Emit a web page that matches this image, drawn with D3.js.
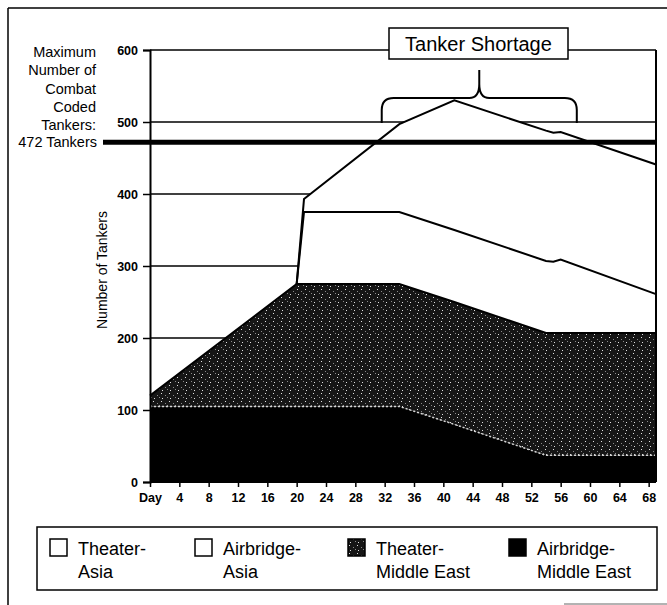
<!DOCTYPE html>
<html>
<head>
<meta charset="utf-8">
<script src="https://cdn.jsdelivr.net/npm/d3@7/dist/d3.min.js"></script>
<style>
  html, body { margin: 0; padding: 0; background: #fff; }
  svg { display: block; font-family: "Liberation Sans", Arial, Helvetica, sans-serif; }
</style>
</head>
<body>
<svg id="chart" width="667" height="605"></svg>
<script>
// ---- data ----
const days           = [0, 20, 21, 34, 41.5, 54, 55, 56, 69];
const airbridgeME    = [105, 105, 105, 105, 80, 37, 37, 37, 37];
const theaterME      = [15, 170, 170, 170, 170, 170, 170, 170, 170];
const airbridgeAsia  = [0, 0, 100, 100, 100, 100, 99, 102, 54];
const theaterAsia    = [0, 0, 18, 122, 180, 181, 179, 177, 180];
const seriesKeys     = ["airbridgeME", "theaterME", "airbridgeAsia", "theaterAsia"];
const xTickDays      = [0, 4, 8, 12, 16, 20, 24, 28, 32, 36, 40, 44, 48, 52, 56, 60, 64, 68];
const xTickLabels    = ["Day", "4", "8", "12", "16", "20", "24", "28", "32", "36", "40", "44", "48", "52", "56", "60", "64", "68"];
const yTicks         = [0, 100, 200, 300, 400, 500, 600];
const gridValues     = [200, 300, 400, 500];
const maxTankers     = 472;
const shortageDays   = [31.6, 58.2];
const legendLabels   = [["Theater-", "Asia"], ["Airbridge-", "Asia"], ["Theater-", "Middle East"], ["Airbridge-", "Middle East"]];
const leftLabelLines = ["Maximum", "Number of", "Combat", "Coded", "Tankers:"];

// ---- setup ----
const svg = d3.select("#chart");
const x = d3.scaleLinear().domain([0, 69]).range([150, 656]);
const y = d3.scaleLinear().domain([0, 600]).range([482, 50]);

const table = days.map((d, i) => ({
  day: d,
  airbridgeME: airbridgeME[i],
  theaterME: theaterME[i],
  airbridgeAsia: airbridgeAsia[i],
  theaterAsia: theaterAsia[i]
}));
const stacked = d3.stack().keys(seriesKeys)(table);

// stipple pattern
const defs = svg.append("defs");
const pat = defs.append("pattern").attr("id", "stipple").attr("patternUnits", "userSpaceOnUse")
  .attr("width", 8).attr("height", 8);
pat.append("rect").attr("width", 8).attr("height", 8).attr("fill", "#161616");
[[1, 1], [5, 3], [2, 6], [7, 5]].forEach(([px, py], k) => {
  pat.append("rect").attr("x", px).attr("y", py).attr("width", 1).attr("height", 1)
    .attr("fill", k % 2 ? "#8a8a8a" : "#e0e0e0");
});

// outer frame
svg.append("line").attr("x1", 8).attr("x2", 667).attr("y1", 8).attr("y2", 8).attr("stroke", "#000").attr("stroke-width", 1.5);
svg.append("line").attr("x1", 8).attr("x2", 8).attr("y1", 8).attr("y2", 605).attr("stroke", "#000").attr("stroke-width", 1.5);
svg.append("line").attr("x1", 564).attr("x2", 667).attr("y1", 604).attr("y2", 604).attr("stroke", "#666").attr("stroke-width", 1);

// gridlines
svg.append("g").selectAll("line").data(gridValues).join("line")
  .attr("x1", x(0)).attr("x2", x(69)).attr("y1", d => y(d)).attr("y2", d => y(d))
  .attr("stroke", "#000").attr("stroke-width", 1.5);

// areas
const area = d3.area().x(d => x(d.data.day)).y0(d => y(d[0])).y1(d => y(d[1]));
const fills = { airbridgeME: "#000", theaterME: "url(#stipple)", airbridgeAsia: "#fff", theaterAsia: "#fff" };
svg.append("g").selectAll("path").data(stacked).join("path")
  .attr("d", area).attr("fill", d => fills[d.key]);

// top edges
const topLine = d3.line().x(d => x(d.data.day)).y(d => y(d[1]));
svg.append("path").attr("d", topLine(stacked[0])).attr("fill", "none")
  .attr("stroke", "#d5d5d5").attr("stroke-width", 1.5).attr("stroke-dasharray", "2,2");
svg.append("path").attr("d", topLine(stacked[1])).attr("fill", "none")
  .attr("stroke", "#000").attr("stroke-width", 2);
const fromDay20 = s => s.filter(d => d.data.day >= 20);
svg.append("path").attr("d", topLine(fromDay20(stacked[2]))).attr("fill", "none")
  .attr("stroke", "#000").attr("stroke-width", 2);
svg.append("path").attr("d", topLine(fromDay20(stacked[3]))).attr("fill", "none")
  .attr("stroke", "#000").attr("stroke-width", 2);

// plot frame: top at 600 and right edge
svg.append("line").attr("x1", x(0)).attr("x2", x(69)).attr("y1", y(600)).attr("y2", y(600)).attr("stroke", "#000").attr("stroke-width", 1.5);
svg.append("line").attr("x1", x(69)).attr("x2", x(69)).attr("y1", y(600)).attr("y2", y(0)).attr("stroke", "#000").attr("stroke-width", 2);

// max tankers line
svg.append("line").attr("x1", 103).attr("x2", x(69)).attr("y1", y(maxTankers)).attr("y2", y(maxTankers))
  .attr("stroke", "#000").attr("stroke-width", 5);

// axes
const yAxis = svg.append("g").attr("transform", `translate(${x(0)},0)`)
  .call(d3.axisLeft(y).tickValues(yTicks).tickSize(7).tickPadding(5).tickFormat(d3.format("d")));
const xAxis = svg.append("g").attr("transform", `translate(0,${y(0)})`)
  .call(d3.axisBottom(x).tickValues(xTickDays).tickSize(5).tickPadding(6)
    .tickFormat((d, i) => xTickLabels[i]));
[yAxis, xAxis].forEach(g => {
  g.select(".domain").attr("stroke", "#000").attr("stroke-width", 2);
  g.selectAll(".tick line").attr("stroke", "#000").attr("stroke-width", 1.5);
  g.selectAll("text").attr("fill", "#000").style("font-size", "12.5px").style("font-weight", "bold")
    .style("font-family", "'Liberation Sans', Arial, sans-serif");
});
xAxis.select(".domain").attr("d", `M${x(0)},0H${x(69)}`);

// y-axis title
svg.append("text").attr("transform", `translate(107,270) rotate(-90)`)
  .attr("text-anchor", "middle").style("font-size", "14px").text("Number of Tankers");

// left annotation
const leftG = svg.append("g").attr("text-anchor", "end").style("font-size", "14.5px");
leftLabelLines.forEach((t, i) => {
  leftG.append("text").attr("x", 96).attr("y", 57 + i * 18.3).text(t);
});
leftG.append("text").attr("x", 97).attr("y", y(maxTankers) + 5).text(maxTankers + " Tankers");

// tanker shortage brace
const bx0 = x(shortageDays[0]), bx1 = x(shortageDays[1]);
const bmid = (bx0 + bx1) / 2;
const byEnd = 123, byTop = 98, bySpike = 70;
const brace = `M${bx0},${byEnd} L${bx0},${byTop + 12} Q${bx0},${byTop} ${bx0 + 12},${byTop}
  L${bmid - 10},${byTop} Q${bmid},${byTop} ${bmid},${byTop - 14} L${bmid},${bySpike}
  M${bmid},${byTop - 14} Q${bmid},${byTop} ${bmid + 10},${byTop}
  L${bx1 - 12},${byTop} Q${bx1},${byTop} ${bx1},${byTop + 12} L${bx1},${byEnd}`;
svg.append("path").attr("d", brace).attr("fill", "none").attr("stroke", "#000").attr("stroke-width", 2);

svg.append("rect").attr("x", 389).attr("y", 28).attr("width", 179).attr("height", 31)
  .attr("fill", "#fff").attr("stroke", "#000").attr("stroke-width", 1.5);
svg.append("text").attr("x", 478.5).attr("y", 51).attr("text-anchor", "middle")
  .style("font-size", "20px").text("Tanker Shortage");

// legend
svg.append("rect").attr("x", 37).attr("y", 527).attr("width", 620).attr("height", 63)
  .attr("fill", "#fff").attr("stroke", "#000").attr("stroke-width", 1.5);
const legendX = [50, 195, 348, 509];
const legendFill = ["#fff", "#fff", "url(#stipple)", "#000"];
legendLabels.forEach((lines, i) => {
  const g = svg.append("g").attr("transform", `translate(${legendX[i]},0)`);
  g.append("rect").attr("x", 0).attr("y", 539).attr("width", 17).attr("height", 17)
    .attr("fill", legendFill[i]).attr("stroke", "#000").attr("stroke-width", 1.5);
  lines.forEach((t, j) => {
    g.append("text").attr("x", 28).attr("y", 555 + j * 23).style("font-size", "18px").text(t);
  });
});
</script>
</body>
</html>
